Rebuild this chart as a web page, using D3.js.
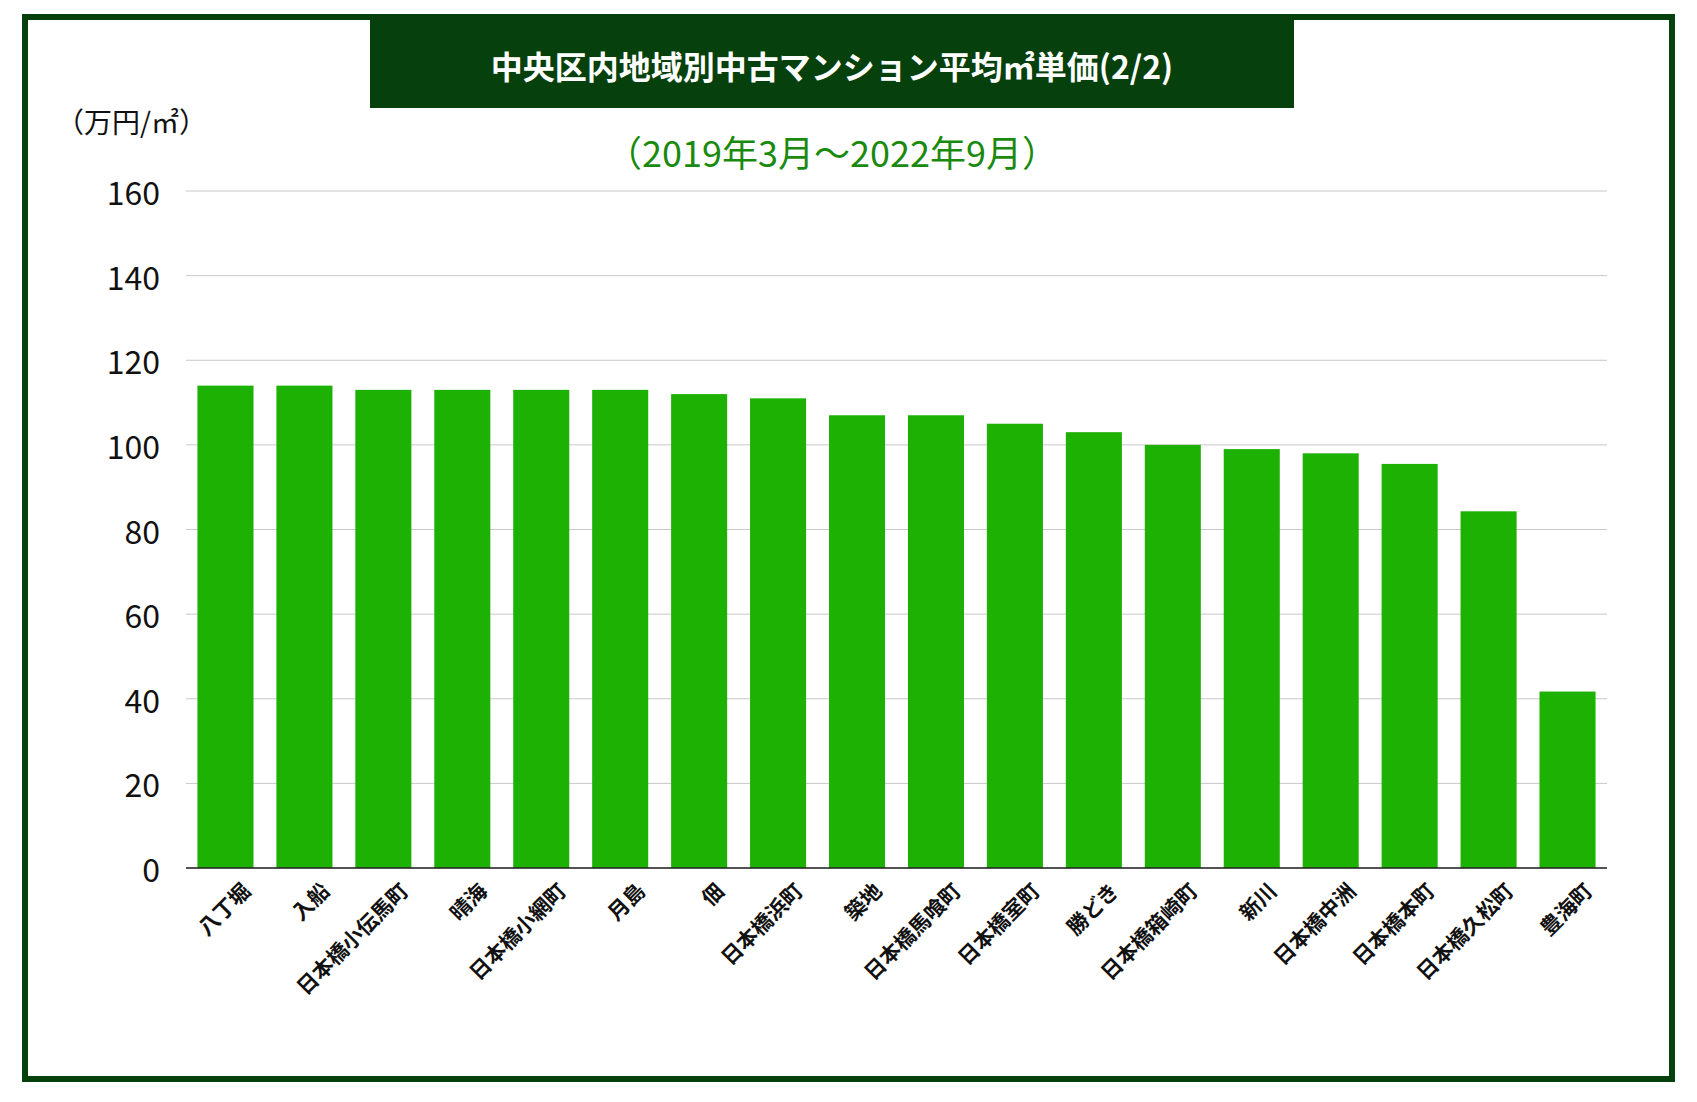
<!DOCTYPE html><html><head><meta charset="utf-8"><script src="https://cdn.jsdelivr.net/npm/d3@7"></script>
<style>body{margin:0;background:#fff}svg{display:block}</style></head><body><svg id="c" width="1697" height="1102"></svg><script>
const categories=["八丁堀","入船","日本橋小伝馬町","晴海","日本橋小網町","月島","佃","日本橋浜町","築地","日本橋馬喰町","日本橋室町","勝どき","日本橋箱崎町","新川","日本橋中洲","日本橋本町","日本橋久松町","豊海町"];
const values=[114,114,113,113,113,113,112,111,107,107,105,103,100,99,98,95.5,84.3,41.7];
const yTicks=[0,20,40,60,80,100,120,140,160];
const F="'Noto Sans CJK JP','Noto Sans',sans-serif";
const svg=d3.select("#c");
svg.append("rect").attr("x",25).attr("y",17).attr("width",1647).attr("height",1062).attr("fill","none").attr("stroke","#06400c").attr("stroke-width",6);
svg.append("rect").attr("x",370).attr("y",18).attr("width",924).attr("height",90).attr("fill","#06400c");
svg.append("text").attr("x",832).attr("y",65).attr("text-anchor","middle").attr("dominant-baseline","central").attr("fill","#fff").attr("font-family",F).attr("font-weight","bold").attr("font-size",32).text("中央区内地域別中古マンション平均㎡単価(2/2)");
svg.append("text").attr("x",832).attr("y",151).attr("text-anchor","middle").attr("dominant-baseline","central").attr("fill","#1a8a0e").attr("font-family",F).attr("font-size",36).text("（2019年3月～2022年9月）");
svg.append("text").attr("x",56).attr("y",121).attr("dominant-baseline","central").attr("fill","#111").attr("font-family",F).attr("font-size",28).text("（万円/㎡）");
const x=d3.scaleBand().domain(categories).range([186,1607]).paddingInner(0.29).paddingOuter(0.145);
const y=d3.scaleLinear().domain([0,160]).range([868,191]);
const g=svg.append("g");
g.selectAll("line.grid").data(yTicks).join("line").attr("x1",186).attr("x2",1607).attr("y1",d=>y(d)).attr("y2",d=>y(d)).attr("stroke","#c8c8c8").attr("stroke-width",1);
g.selectAll("text.yt").data(yTicks).join("text").attr("x",160).attr("y",d=>y(d)).attr("text-anchor","end").attr("dominant-baseline","central").attr("font-family",F).attr("font-size",32).attr("fill","#111").text(d=>d);
g.selectAll("rect.bar").data(values).join("rect").attr("x",(d,i)=>x(categories[i])).attr("width",x.bandwidth()).attr("y",d=>y(d)).attr("height",d=>y(0)-y(d)).attr("fill","#1db104");
g.append("line").attr("x1",186).attr("x2",1607).attr("y1",y(0)).attr("y2",y(0)).attr("stroke","#222").attr("stroke-width",1.5);
g.selectAll("text.xl").data(categories).join("text").attr("transform",d=>`translate(${x(d)+x.bandwidth()/2+20},${y(0)+18}) rotate(-45)`).attr("text-anchor","end").attr("dominant-baseline","central").attr("font-family",F).attr("font-weight","bold").attr("font-size",21).attr("fill","#111").text(d=>d);
</script></body></html>
